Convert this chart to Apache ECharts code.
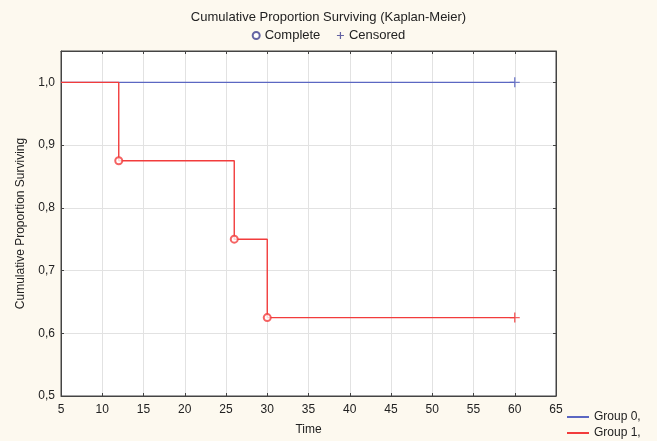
<!DOCTYPE html>
<html>
<head>
<meta charset="utf-8">
<script src="https://cdn.jsdelivr.net/npm/echarts@6/dist/echarts.min.js"></script>
<style>
  html, body { margin: 0; padding: 0; background: #fdf9ef; }
  #chart { width: 657px; height: 441px; }
</style>
</head>
<body>
<div id="chart"></div>
<script>
// Kaplan-Meier survival steps for each group: [time, cumulative proportion surviving]
const group0Steps = [[5, 1.0], [60, 1.0]];
const group1Steps = [[5, 1.0], [12, 0.875], [26, 0.75], [30, 0.625], [60, 0.625]];

// Complete (event) observations, drawn as open circles
const group1Complete = [[12, 0.875], [26, 0.75], [30, 0.625]];

// Censored observations, drawn as plus marks
const group0Censored = [[60, 1.0]];
const group1Censored = [[60, 0.625]];

const groupNames = ['Group 0,', 'Group 1,'];
const markerNames = ['Complete', 'Censored'];
const xTicks = { min: 5, max: 65, interval: 5 };
const yTicks = { min: 0.5, max: 1.05, interval: 0.1 };

const BLUE = '#5b67c2';
const RED = '#f23c3c';
const LEGEND_INK = '#3d3d8f';
const FONT = 'Liberation Sans, Arial, sans-serif';

const plus = 'path://M5,0 L5,10 M0,5 L10,5';
const commaFmt = v => {
  const r = Math.round(v * 10) / 10;
  if (Math.abs(r - v) > 1e-6) return '';
  return r.toFixed(1).replace('.', ',');
};

const chart = echarts.init(document.getElementById('chart'), null, { renderer: 'canvas' });

const gridBox = { left: 61, right: 101, top: 51, bottom: 44 };

chart.setOption({
  backgroundColor: '#fdf9ef',
  animation: false,
  textStyle: { fontFamily: FONT },
  title: {
    text: 'Cumulative Proportion Surviving (Kaplan-Meier)',
    left: 'center',
    top: 11,
    padding: 0,
    textStyle: { fontFamily: FONT, fontSize: 13, fontWeight: 'normal', color: '#222' }
  },
  legend: [
    {
      data: [
        { name: markerNames[0], icon: 'emptyCircle', itemStyle: { color: LEGEND_INK, borderColor: LEGEND_INK, borderWidth: 1 } },
        { name: markerNames[1], icon: plus, itemStyle: { color: 'transparent', borderColor: LEGEND_INK, borderWidth: 1.2 } }
      ],
      top: 29,
      left: 'center',
      padding: 0,
      itemWidth: 7,
      itemHeight: 7,
      itemGap: 16,
      textStyle: { fontFamily: FONT, fontSize: 13, color: '#222' },
      selectedMode: false
    },
    {
      data: groupNames,
      orient: 'vertical',
      left: 567,
      top: 411,
      padding: 0,
      itemWidth: 22,
      itemHeight: 2,
      itemGap: 4,
      icon: 'rect',
      textStyle: { fontFamily: FONT, fontSize: 12, color: '#222' },
      selectedMode: false
    }
  ],
  grid: Object.assign({
    show: true,
    backgroundColor: '#ffffff',
    borderColor: '#444',
    borderWidth: 1,
    containLabel: false
  }, gridBox),
  xAxis: [
    {
      type: 'value',
      min: xTicks.min, max: xTicks.max, interval: xTicks.interval,
      name: 'Time',
      nameLocation: 'middle',
      nameGap: 28,
      nameTextStyle: { fontFamily: FONT, fontSize: 12, color: '#222' },
      axisLine: { show: true, lineStyle: { color: '#444' } },
      axisTick: { show: true, inside: true, length: 3, lineStyle: { color: '#444' } },
      axisLabel: { fontFamily: FONT, fontSize: 12, color: '#222', margin: 8 },
      splitLine: { show: true, lineStyle: { color: '#e2e2e2', width: 1 } }
    },
    {
      type: 'value', position: 'top',
      min: xTicks.min, max: xTicks.max, interval: xTicks.interval,
      axisLine: { show: true, lineStyle: { color: '#444' } },
      axisTick: { show: true, inside: true, length: 3, lineStyle: { color: '#444' } },
      axisLabel: { show: false },
      splitLine: { show: false }
    }
  ],
  yAxis: [
    {
      type: 'value',
      min: yTicks.min, max: yTicks.max, interval: yTicks.interval,
      name: 'Cumulative Proportion Surviving',
      nameLocation: 'middle',
      nameGap: 34,
      nameTextStyle: { fontFamily: FONT, fontSize: 12, color: '#222' },
      axisLine: { show: true, lineStyle: { color: '#444' } },
      axisTick: { show: true, inside: true, length: 3, lineStyle: { color: '#444' } },
      axisLabel: { fontFamily: FONT, fontSize: 12, color: '#222', margin: 6, formatter: commaFmt, showMaxLabel: false },
      splitLine: { show: true, lineStyle: { color: '#e2e2e2', width: 1 } }
    },
    {
      type: 'value', position: 'right',
      min: yTicks.min, max: yTicks.max, interval: yTicks.interval,
      axisLine: { show: true, lineStyle: { color: '#444' } },
      axisTick: { show: true, inside: true, length: 3, lineStyle: { color: '#444' } },
      axisLabel: { show: false },
      splitLine: { show: false }
    }
  ],
  series: [
    {
      name: groupNames[0],
      type: 'line',
      step: 'end',
      data: group0Steps,
      showSymbol: false,
      color: BLUE,
      lineStyle: { color: BLUE, width: 1.4 },
      z: 2
    },
    {
      name: groupNames[1],
      type: 'line',
      step: 'end',
      data: group1Steps,
      showSymbol: false,
      color: RED,
      lineStyle: { color: RED, width: 1.4 },
      z: 3
    },
    {
      name: markerNames[0],
      type: 'scatter',
      data: group1Complete,
      symbol: 'emptyCircle',
      symbolSize: 7,
      itemStyle: { color: RED, borderWidth: 1.2 },
      z: 4
    },
    {
      name: markerNames[1],
      type: 'scatter',
      data: group0Censored.map(p => ({ value: p, itemStyle: { borderColor: BLUE } }))
        .concat(group1Censored.map(p => ({ value: p, itemStyle: { borderColor: RED } }))),
      symbol: plus,
      symbolSize: 10,
      itemStyle: { color: 'transparent', borderWidth: 1.4 },
      z: 4
    }
  ]
});
</script>
</body>
</html>
